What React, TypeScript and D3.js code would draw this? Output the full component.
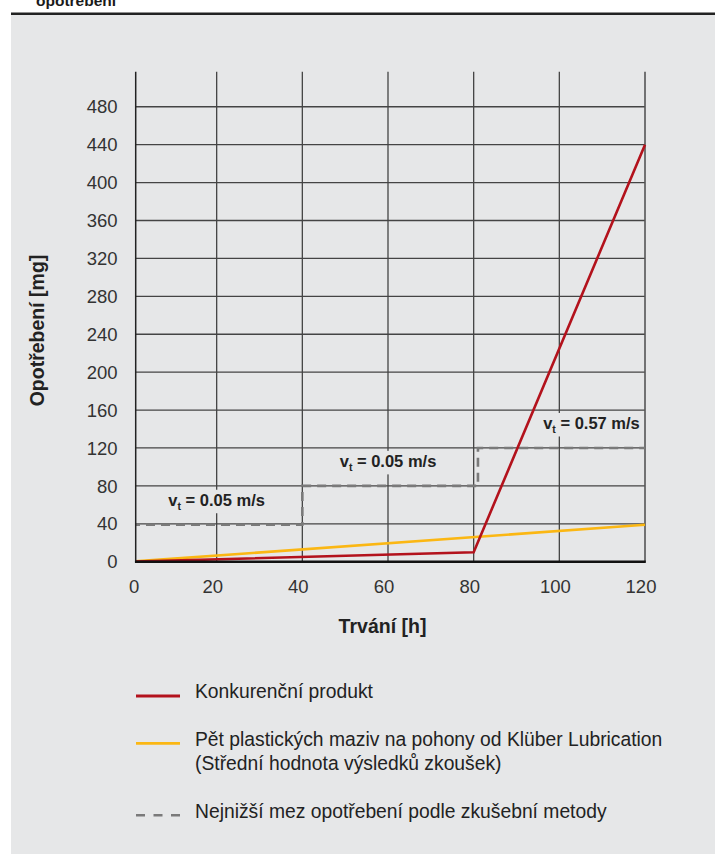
import React, { useEffect, useRef } from "react";
import * as d3 from "d3";

const xTicks = [0, 20, 40, 60, 80, 100, 120];
const yTicks = [0, 40, 80, 120, 160, 200, 240, 280, 320, 360, 400, 440, 480];
const competitorHours = [0, 80, 120];
const competitorWear = [0, 10, 440];
const kluberHours = [0, 120];
const kluberWear = [0, 39];
const limitHours = [0, 40, 40, 81, 81, 120];
const limitWear = [39, 39, 80, 80, 120, 120];
const speedLabelHours = [20, 60, 107.5];
const speedLabelLevels = [39, 80, 120];
const speedLabelValues = ["0.05", "0.05", "0.57"];
const legendRed = ["Konkurenční produkt"];
const legendYellow = [
  "Pět plastických maziv na pohony od Klüber Lubrication",
  "(Střední hodnota výsledků zkoušek)",
];
const legendDashed = ["Nejnižší mez opotřebení podle zkušební metody"];

const FONT = "'Liberation Sans', Arial, Helvetica, sans-serif";
const RED = "#b3121c";
const YELLOW = "#fbb713";
const DASH = "#7a7a7a";
const PANEL = "#e6e7e8";

export default function App() {
  const ref = useRef<SVGSVGElement>(null);

  useEffect(() => {
    document.body.style.margin = "0";
    const svg = d3.select(ref.current);
    svg.selectAll("*").remove();

    const W = 715;
    const H = 854;

    svg.append("rect").attr("x", 0).attr("y", 0).attr("width", W).attr("height", H).attr("fill", "#fff");
    // header title (cut off at the top, as in the source page)
    svg
      .append("text")
      .attr("x", 36)
      .attr("y", 6)
      .attr("font-family", FONT)
      .attr("font-weight", "bold")
      .attr("font-size", 15.5)
      .attr("fill", "#1a1a1a")
      .text("opotřebení");
    svg.append("rect").attr("x", 11).attr("y", 15).attr("width", W - 11).attr("height", H - 15).attr("fill", PANEL);
    svg.append("rect").attr("x", 11).attr("y", 12.5).attr("width", W - 11).attr("height", 2.5).attr("fill", "#222");

    const x = d3.scaleLinear().domain([0, 120]).range([131, 645]);
    const y = d3.scaleLinear().domain([0, 517]).range([561.7, 71.7]);
    const axisX = 135.7;
    const top = y(517);

    const defs = svg.append("defs");
    defs
      .append("clipPath")
      .attr("id", "plotclip")
      .append("rect")
      .attr("x", axisX)
      .attr("y", top)
      .attr("width", x(120) - axisX + 2)
      .attr("height", y(0) - top + 2);

    const grid = svg.append("g");
    grid
      .selectAll("line.h")
      .data(yTicks.filter((d) => d > 0))
      .join("line")
      .attr("x1", axisX)
      .attr("x2", x(120))
      .attr("y1", (d) => y(d))
      .attr("y2", (d) => y(d))
      .attr("stroke", "#444")
      .attr("stroke-width", 1.3);
    grid
      .selectAll("line.v")
      .data(xTicks.filter((d) => d > 0 && d < 120))
      .join("line")
      .attr("x1", (d) => x(d))
      .attr("x2", (d) => x(d))
      .attr("y1", top)
      .attr("y2", y(0))
      .attr("stroke", "#444")
      .attr("stroke-width", 1.3);
    svg
      .append("line")
      .attr("x1", x(120))
      .attr("x2", x(120))
      .attr("y1", top)
      .attr("y2", y(0))
      .attr("stroke", "#555")
      .attr("stroke-width", 1.6);

    const labels = svg.append("g");
    speedLabelHours.forEach((h, i) => {
      const g = labels.append("g");
      const bg = g.append("rect").attr("fill", PANEL);
      const t = g
        .append("text")
        .attr("x", x(h))
        .attr("y", y(speedLabelLevels[i]) - 19)
        .attr("text-anchor", "middle")
        .attr("font-family", FONT)
        .attr("font-weight", "bold")
        .attr("font-size", 16.5)
        .attr("fill", "#222");
      t.append("tspan").text("v");
      t.append("tspan").attr("font-size", 10.5).attr("dy", 4.5).text("t");
      t.append("tspan").attr("dy", -4.5).text(` = ${speedLabelValues[i]} m/s`);
      const bb = (t.node() as SVGTextElement).getBBox();
      bg.attr("x", bb.x - 3)
        .attr("y", bb.y - 1)
        .attr("width", bb.width + 6)
        .attr("height", bb.height + 2);
    });

    const plot = svg.append("g").attr("clip-path", "url(#plotclip)");
    const line = d3
      .line<[number, number]>()
      .x((d) => x(d[0]))
      .y((d) => y(d[1]));

    plot
      .append("path")
      .attr("d", line(limitHours.map((h, i) => [h, limitWear[i]] as [number, number])))
      .attr("fill", "none")
      .attr("stroke", DASH)
      .attr("stroke-width", 2.6)
      .attr("stroke-dasharray", "9 6");

    plot
      .append("path")
      .attr("d", line(kluberHours.map((h, i) => [h, kluberWear[i]] as [number, number])))
      .attr("fill", "none")
      .attr("stroke", YELLOW)
      .attr("stroke-width", 2.6);

    plot
      .append("path")
      .attr("d", line(competitorHours.map((h, i) => [h, competitorWear[i]] as [number, number])))
      .attr("fill", "none")
      .attr("stroke", RED)
      .attr("stroke-width", 2.6)
      .attr("stroke-linejoin", "miter");

    svg
      .append("line")
      .attr("x1", axisX)
      .attr("x2", axisX)
      .attr("y1", top)
      .attr("y2", y(0))
      .attr("stroke", "#222")
      .attr("stroke-width", 1.5);
    svg
      .append("line")
      .attr("x1", axisX - 0.75)
      .attr("x2", x(120) + 0.8)
      .attr("y1", y(0))
      .attr("y2", y(0))
      .attr("stroke", "#111")
      .attr("stroke-width", 2.5);

    svg
      .append("g")
      .selectAll("text")
      .data(yTicks)
      .join("text")
      .attr("x", 117.5)
      .attr("y", (d) => y(d))
      .attr("dy", "0.36em")
      .attr("text-anchor", "end")
      .attr("font-family", FONT)
      .attr("font-size", 18.5)
      .attr("fill", "#333")
      .text((d) => String(d));
    svg
      .append("g")
      .selectAll("text")
      .data(xTicks)
      .join("text")
      .attr("x", (d) => (d === 0 ? axisX - 1.5 : x(d) - 4))
      .attr("y", 592.5)
      .attr("text-anchor", "middle")
      .attr("font-family", FONT)
      .attr("font-size", 18.5)
      .attr("fill", "#333")
      .text((d) => String(d));

    svg
      .append("text")
      .attr("x", 382.5)
      .attr("y", 633)
      .attr("text-anchor", "middle")
      .attr("font-family", FONT)
      .attr("font-weight", "bold")
      .attr("font-size", 19.5)
      .attr("fill", "#222")
      .text("Trvání [h]");
    svg
      .append("text")
      .attr("transform", "translate(43.5,330.5) rotate(-90)")
      .attr("text-anchor", "middle")
      .attr("font-family", FONT)
      .attr("font-weight", "bold")
      .attr("font-size", 19.5)
      .attr("fill", "#222")
      .text("Opotřebení [mg]");

    const lg = svg.append("g");
    const legendItem = (
      lineY: number,
      baseY: number,
      color: string,
      dashed: boolean,
      texts: string[]
    ) => {
      lg.append("line")
        .attr("x1", 136)
        .attr("x2", 180)
        .attr("y1", lineY)
        .attr("y2", lineY)
        .attr("stroke", color)
        .attr("stroke-width", dashed ? 2.6 : 2.8)
        .attr("stroke-dasharray", dashed ? "9 8.5" : null);
      texts.forEach((t, i) => {
        lg.append("text")
          .attr("x", 195)
          .attr("y", baseY + i * 24)
          .attr("font-family", FONT)
          .attr("font-size", 19.3)
          .attr("fill", "#222")
          .text(t);
      });
    };
    legendItem(696, 697.5, RED, false, legendRed);
    legendItem(743.3, 746, YELLOW, false, legendYellow);
    legendItem(815.3, 817.5, DASH, true, legendDashed);
  }, []);

  return <svg ref={ref} width={715} height={854} style={{ display: "block" }} />;
}
